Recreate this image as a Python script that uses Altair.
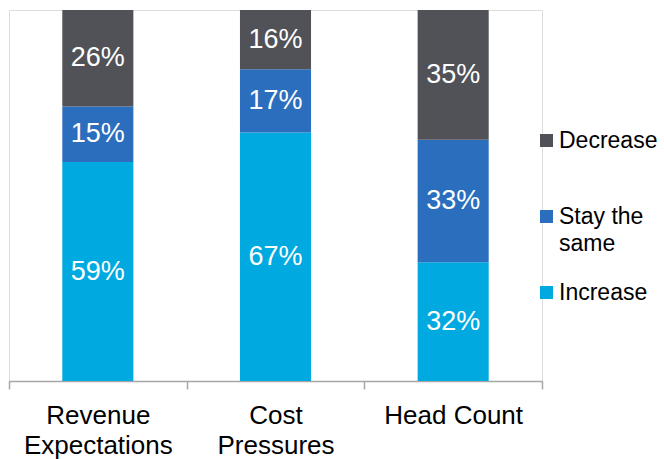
import altair as alt
import pandas as pd

categories = ["Revenue Expectations", "Cost Pressures", "Head Count"]
responses = ["Decrease", "Stay the same", "Increase"]
increase = [59, 67, 32]
stay_same = [15, 17, 33]
decrease = [26, 16, 35]
colors = ["#505257", "#2a6ebd", "#00a9df"]

series = [("Increase", increase, 1), ("Stay the same", stay_same, 2), ("Decrease", decrease, 3)]
rows = []
for i, c in enumerate(categories):
    for name, vals, order in series:
        rows.append({"category": c, "response": name, "value": vals[i], "order": order})
df = pd.DataFrame(rows)

FONT = "Liberation Sans"

base = alt.Chart(df).transform_stack(
    stack="value",
    groupby=["category"],
    as_=["y0", "y1"],
    sort=[alt.SortField("order", order="ascending")],
).transform_calculate(
    mid="(datum.y0 + datum.y1) / 2",
    label="datum.value + '%'",
)

x_scale = alt.Scale(paddingInner=0, paddingOuter=0)

x_enc = alt.X(
    "category:N",
    sort=categories,
    scale=x_scale,
    axis=alt.Axis(
        title=None,
        labelAngle=0,
        labelExpr="datum.label == 'Head Count' ? datum.label : split(datum.label, ' ')",
        labelFontSize=26,
        labelColor="#000000",
        labelFont=FONT,
        labelBaseline="top",
        labelLineHeight=30,
        labelPadding=13,
        labelOverlap=False,
        labelBound=False,
        labelLimit=300,
        tickBand="extent",
        tickSize=8,
        tickColor="#a6a6a6",
        tickWidth=1.5,
        domainColor="#a6a6a6",
        domainWidth=1.5,
        grid=False,
    ),
)

bars = base.mark_bar(width=alt.RelativeBandSize(0.4)).encode(
    x=x_enc,
    y=alt.Y("y0:Q", scale=alt.Scale(domain=[0, 100]), axis=None),
    y2="y1:Q",
    color=alt.Color(
        "response:N",
        scale=alt.Scale(domain=responses, range=colors),
        legend=alt.Legend(
            title=None,
            orient="none",
            legendX=526,
            legendY=119,
            padding=0,
            symbolType="square",
            symbolSize=169,
            symbolStrokeWidth=0,
            symbolOpacity=1,
            labelFontSize=23,
            labelFont=FONT,
            labelColor="#000000",
            labelOffset=1,
            labelLimit=200,
            rowPadding=25,
            labelExpr=(
                "datum.label == 'Stay the same' ? ['Stay the', 'same'] : "
                "(datum.label == 'Decrease' ? ['Decrease', ''] : datum.label)"
            ),
        ),
    ),
)

labels = base.mark_text(
    color="white", fontSize=27, font=FONT, baseline="middle", align="center"
).encode(
    x=alt.X("category:N", sort=categories, scale=x_scale),
    y=alt.Y("mid:Q", scale=alt.Scale(domain=[0, 100]), axis=None),
    text="label:N",
)

chart = (
    alt.layer(bars, labels)
    .properties(
        width=533,
        height=371,
        autosize=alt.AutoSizeParams(type="none"),
        padding={"left": 9, "top": 10, "right": 122, "bottom": 78},
        background="white",
    )
    .configure_view(stroke=None)
    .configure(font=FONT, style={"guide-label": {"lineHeight": 27}})
)

chart.save("out.html", embed_options={"renderer": "svg", "actions": False})
